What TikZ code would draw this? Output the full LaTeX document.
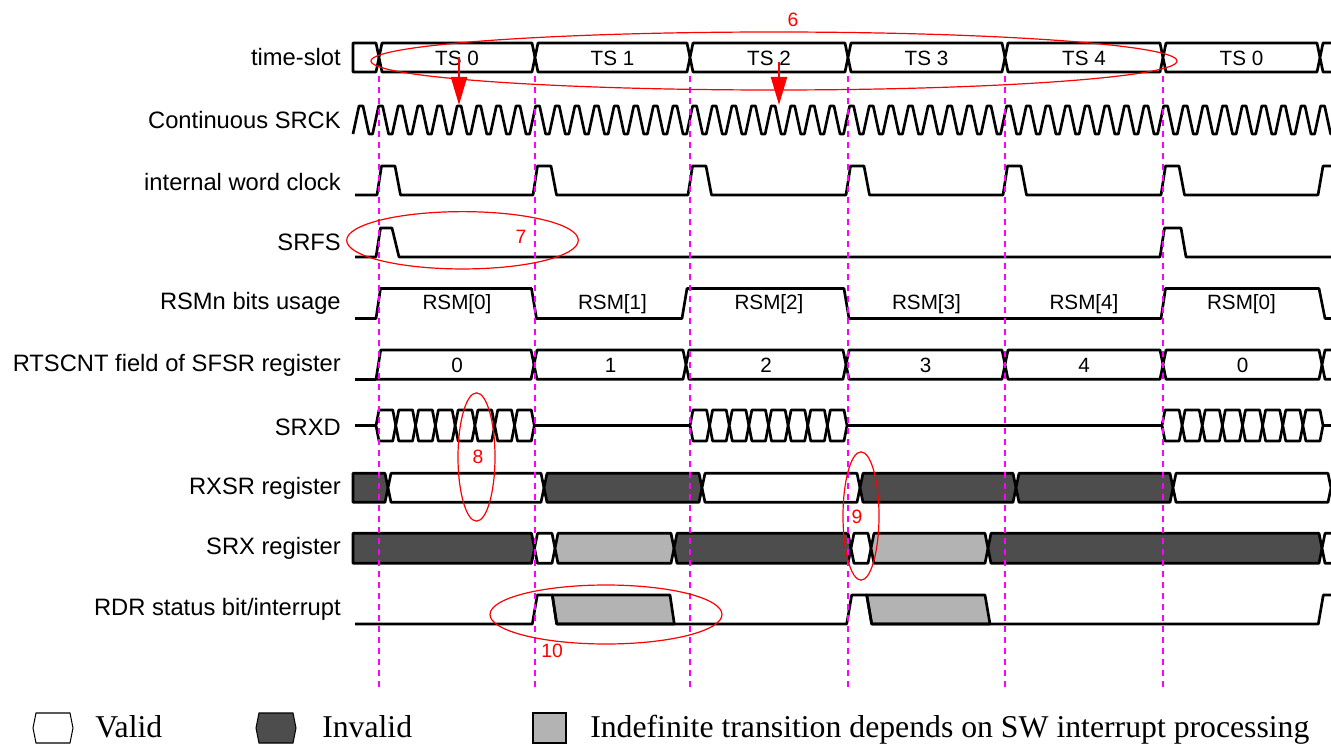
\documentclass[tikz,border=0pt]{standalone}
\usepackage{fontspec}
\setmainfont{Liberation Serif}
\newfontfamily\arialf{Liberation Sans}
\usetikzlibrary{arrows.meta,shapes.geometric}
\definecolor{inv}{HTML}{4D4D4D}
\definecolor{ind}{HTML}{B3B3B3}
\definecolor{mag}{HTML}{FF00FF}
\newcommand\tbhex[5]{\draw[#1] ({#2},{(#4+#5)/2}) -- ({#2+3},{#4}) -- ({#3-3},{#4}) -- ({#3},{(#4+#5)/2}) -- ({#3-3},{#5}) -- ({#2+3},{#5}) -- cycle;}
\begin{document}
\begin{tikzpicture}[x=0.75pt,y=-0.75pt,
  sig/.style={line width=2pt,line join=round},
  valid/.style={sig,fill=white},
  invalid/.style={sig,fill=inv},
  indef/.style={sig,fill=ind},
  legbox/.style={line width=0.8pt},
  guide/.style={mag,line width=1.8pt,dash pattern=on 4.5pt off 3.75pt},
  ring/.style={draw=red,line width=0.9pt,ellipse,inner sep=0pt},
  redarrow/.style={red,line width=1.5pt,-{Triangle[width=12pt,length=21pt]}},
  lbl/.style={anchor=east,inner sep=0pt,font=\arialf\fontsize{17.8}{20}\selectfont},
  val/.style={inner sep=0pt,font=\arialf\fontsize{15.5}{18}\selectfont},
  num/.style={inner sep=0pt,text=red,font=\arialf\fontsize{14.5}{17}\selectfont},
  leg/.style={anchor=base west,inner sep=0pt,font=\fontsize{23.8}{28}\selectfont}]
\useasboundingbox (0,0) rectangle (1331,745);
\begin{scope}
\clip (0,0) rectangle (1331,745);
% row labels
\node[lbl] (l1) at (341,57.5) {time-slot};
\node[lbl] (l2) at (341,120) {Continuous SRCK};
\node[lbl] (l3) at (341,182) {internal word clock};
\node[lbl] (l4) at (341,242) {SRFS};
\node[lbl] (l5) at (341,303) {RSMn bits usage};
\node[lbl] (l6) at (341,365) {RTSCNT field of SFSR register};
\node[lbl] (l7) at (341,427) {SRXD};
\node[lbl] (l8) at (341,488) {RXSR register};
\node[lbl] (l9) at (341,548) {SRX register};
\node[lbl] (l10) at (341,609) {RDR status bit/interrupt};
% time-slot
\draw[valid] (353,43) -- (376,43) -- (379,57.5) -- (376,72) -- (353,72) -- cycle;
\foreach \a/\b/\t [count=\i] in {379/535/TS 0,535/690/TS 1,690/848/TS 2,848/1005/TS 3,1005/1163/TS 4,1163/1320/TS 0}{
  \tbhex{valid}{\a}{\b}{43}{72}
  \node[val] (ts\i) at ({(\a+\b)/2},58) {\t};
}
\draw[valid] (1336,43) -- (1323,43) -- (1320,57.5) -- (1323,72) -- (1336,72);
% continuous SRCK
\draw[sig] (353,134) foreach \k in {0,...,49}{ -- ({353+19.625*\k+6},106) -- ({353+19.625*\k+10},106) -- ({353+19.625*\k+16},134) -- ({353+19.625*\k+19.625},134)};
% internal word clock
\draw[sig] (355,195) foreach \b in {379,535,690,848,1005,1163}{ -- ({\b-2},195) -- ({\b+2.5},166) -- ({\b+16},166) -- ({\b+21.5},195)} -- (1318,195) -- (1323,166) -- (1336,166);
% SRFS
\draw[sig] (355,257) -- (376,257) -- (380.5,228) -- (392,228) -- (399,257) -- (1160,257) -- (1164.5,228) -- (1181,228) -- (1186,257) -- (1336,257);
% RSMn bits usage
\draw[sig] (355,318.5) -- (376,318.5) -- (380.5,288.5) -- (531.5,288.5) -- (536.5,318.5) -- (682,318.5) -- (687,288.5) -- (844,288.5) -- (849,318.5) -- (1161,318.5) -- (1165.5,288.5) -- (1319,288.5) -- (1325,318.5) -- (1336,318.5);
\foreach \a/\b/\t [count=\i] in {379/535/RSM[0],535/690/RSM[1],690/848/RSM[2],848/1005/RSM[3],1005/1163/RSM[4],1163/1320/RSM[0]}{
  \node[val] (rsm\i) at ({(\a+\b)/2},304) {\t};
}
% RTSCNT
\draw[sig] (355,379.3) -- (376,379.3);
\draw[valid] (376,379.3) -- (380.7,350) -- (531,350) -- (534,364.6) -- (531,379.3) -- cycle;
\foreach \a/\b in {534/686,686/846,846/1005,1005/1163,1163/1322,1322/1345}{
  \tbhex{valid}{\a}{\b}{350}{379.3}
}
\foreach \a/\b/\t [count=\i] in {379/535/0,535/686/1,686/846/2,846/1005/3,1005/1163/4,1163/1322/0}{
  \node[val] (rt\i) at ({(\a+\b)/2},365) {\t};
}
% SRXD
\draw[sig] (355,425.5) -- (376,425.5);
\draw[sig] (534.3,425.5) -- (690,425.5);
\draw[sig] (847,425.5) -- (1162,425.5);
\draw[sig] (1323,425.5) -- (1336,425.5);
\foreach \s/\e in {376/534.3,690/847,1162/1323}{
  \foreach \j in {0,...,7}{
    \tbhex{valid}{\s+\j*(\e-\s)/8}{\s+(\j+1)*(\e-\s)/8}{410}{441}
  }
}
% RXSR register
\draw[invalid] (353,473.3) -- (385,473.3) -- (388,487.8) -- (385,502.3) -- (353,502.3) -- cycle;
\foreach \a/\b/\f in {388/544/valid,544/702/invalid,702/860/valid,860/1016/invalid,1016/1173/invalid,1173/1331/valid}{
  \tbhex{\f}{\a}{\b}{473.3}{502.3}
}
% SRX register
\draw[invalid] (353,533.3) -- (531.5,533.3) -- (534.5,548.3) -- (531.5,563.3) -- (353,563.3) -- cycle;
\foreach \a/\b/\f in {534.5/555/valid,555/674/indef,674/851/invalid,851/871/valid,871/988/indef,988/1322/invalid,1322/1345/valid}{
  \tbhex{\f}{\a}{\b}{533.3}{563.3}
}
% RDR status bit / interrupt
\draw[indef] (552.3,595) -- (670,595) -- (674.3,624) -- (556.7,624) -- cycle;
\draw[indef] (866.7,595) -- (985,595) -- (990,624) -- (871.7,624) -- cycle;
\draw[sig] (355,624) -- (532.3,624) -- (537.3,595) -- (552.3,595) -- (556.7,624) -- (846.7,624) -- (851.7,595) -- (866.7,595) -- (871.7,624) -- (1318.3,624) -- (1323.3,595) -- (1336,595);
% guide lines
\foreach \x [count=\i] in {379,535,690,848,1005,1163}{
  \coordinate (gt\i) at (\x,76);
  \coordinate (gb\i) at (\x,688);
  \draw[guide] (gt\i) -- (gb\i);
}
\end{scope}
% annotations
\node[ring,minimum width=604.5pt,minimum height=43.5pt] (e6) at (774,61) {};
\node[num] (n6) at (793,20) {6};
\coordinate (a1s) at (459,57);
\coordinate (a1e) at (459,105);
\coordinate (a2s) at (779,62);
\coordinate (a2e) at (779,105);
\draw[redarrow] (a1s) -- (a1e);
\draw[redarrow] (a2s) -- (a2e);
\node[ring,minimum width=173.7pt,minimum height=43pt] (e7) at (462.5,240.3) {};
\node[num] (n7) at (521,237) {7};
\node[ring,minimum width=27.75pt,minimum height=96.2pt] (e8) at (476.5,457) {};
\node[num] (n8) at (478,457) {8};
\node[ring,minimum width=27pt,minimum height=96.2pt] (e9) at (861,516) {};
\node[num] (n9) at (857,517) {9};
\node[ring,minimum width=174pt,minimum height=44.25pt] (e10) at (606,614.5) {};
\node[num] (n10) at (552,651) {10};
% legend
\tbhex{legbox,fill=white}{33}{73}{713}{743}
\tbhex{legbox,fill=inv}{256}{296}{713}{743}
\draw[legbox,fill=ind] (533,713) rectangle (566,743);
\node[leg] (lv) at (95,737) {Valid};
\node[leg] (li) at (322,737) {Invalid};
\node[leg] (ld) at (590,737) {Indefinite transition depends on SW interrupt processing};
\end{tikzpicture}
\end{document}
